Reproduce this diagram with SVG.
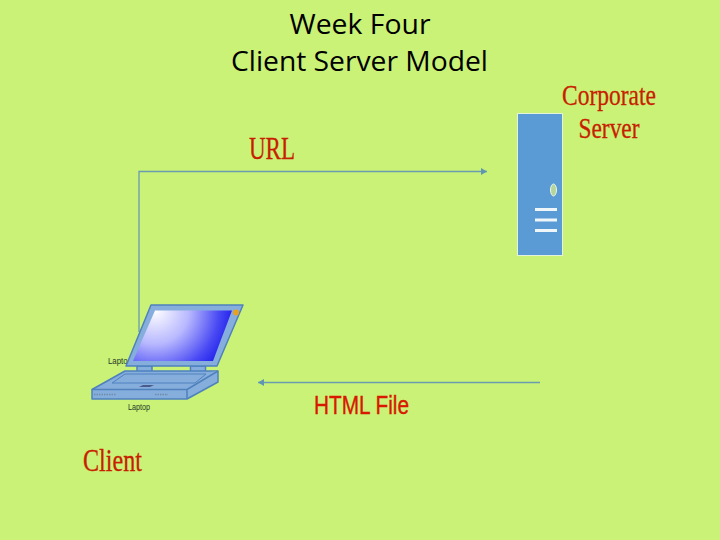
<svg xmlns="http://www.w3.org/2000/svg" width="720" height="540" viewBox="0 0 720 540">
<style>
.title{font-family:"Open Sans","Noto Sans",sans-serif;font-size:28px;fill:#000;text-anchor:middle}
.red{font-family:"Liberation Serif",serif;fill:#c81e00;stroke:#c81e00;stroke-width:0.3}
.redsans{font-family:"Liberation Sans",sans-serif;fill:#d81800;stroke:#d81800;stroke-width:0.4}
.small{font-family:"Liberation Sans",sans-serif;font-size:9px;fill:#24382c}
.conn{fill:none;stroke:#6a9bb0;stroke-width:1.3}
.body{fill:#86aedd;stroke:#4f81bd;stroke-width:1.5;stroke-linejoin:round}
</style>
<defs>
<marker id="arrow" markerUnits="userSpaceOnUse" markerWidth="7" markerHeight="8" refX="6" refY="4" orient="auto"><path d="M0 0.500L6 4L0 7.500Z" fill="#5f96b4"/></marker>
<radialGradient id="screen" gradientUnits="userSpaceOnUse" cx="155" cy="310" r="85"><stop offset="0" stop-color="#fff"/><stop offset="0.4" stop-color="#b8b8ff"/><stop offset="0.75" stop-color="#4a4af4"/><stop offset="1" stop-color="#0f0fe8"/></radialGradient>
</defs>
<rect width="720" height="540" fill="#c9f276"/>
<g id="title"><text class="title" x="360" y="34" textLength="141" lengthAdjust="spacingAndGlyphs">Week Four</text><text class="title" x="359.500" y="71" textLength="257" lengthAdjust="spacingAndGlyphs">Client Server Model</text></g>
<g id="connectors">
<path class="conn" d="M139 332V171.500H487" marker-end="url(#arrow)"/>
<path class="conn" d="M540 382.500H258" marker-end="url(#arrow)"/>
</g>
<g id="url-label"><text class="red" x="249" y="159" font-size="31" textLength="46" lengthAdjust="spacingAndGlyphs">URL</text></g>
<g id="html-label"><text class="redsans" x="314" y="414" font-size="26" textLength="95" lengthAdjust="spacingAndGlyphs">HTML File</text></g>
<g id="server">
<rect x="517.500" y="113.500" width="45" height="142" fill="#5b9bd5" stroke="#e4f3dc" stroke-width="1"/>
<ellipse cx="553.500" cy="190" rx="3" ry="6" fill="#b5d69a" stroke="#e8f5ee" stroke-width="1"/>
<path d="M535 209.500H557M535 220H557M535 230.500H557" stroke="#eef6fa" stroke-width="3.200"/>
</g>
<g id="server-label"><text class="red" x="609" y="105" font-size="30" text-anchor="middle" textLength="94" lengthAdjust="spacingAndGlyphs">Corporate</text><text class="red" x="609" y="138" font-size="30" text-anchor="middle" textLength="61" lengthAdjust="spacingAndGlyphs">Server</text></g>
<g id="client">
<text class="small" x="108" y="364" textLength="24" lengthAdjust="spacingAndGlyphs">Laptop</text>
<text class="small" x="128" y="410" textLength="22" lengthAdjust="spacingAndGlyphs">Laptop</text>
<rect x="137" y="366" width="15" height="6" class="body"/>
<rect x="190.500" y="366" width="15" height="6" class="body"/>
<path class="body" d="M151 305H243L217 366H126Z"/>
<path d="M155 310.500H232L213 361H133Z" fill="url(#screen)"/>
<circle cx="236" cy="312.500" r="3" fill="#e8a020"/>
<path class="body" d="M92 389.500L125 371H218V382L187 399H92Z"/>
<path class="body" fill="none" d="M92 389.500H187L218 371M187 389.500V399"/>
<path d="M112 383L125 374H206L195 383Z" fill="#86aedd" stroke="#4f81bd" stroke-width="1"/>
<path d="M139 387L143 385H154L150 387Z" fill="#4a5a8a"/>
<path d="M94 394.500H116M155 394.500H168" stroke="#6d8ca8" stroke-width="1.500" stroke-dasharray="1.500 1"/>
</g>
<g id="client-label"><text class="red" x="83" y="471" font-size="31" textLength="59" lengthAdjust="spacingAndGlyphs">Client</text></g>
</svg>
